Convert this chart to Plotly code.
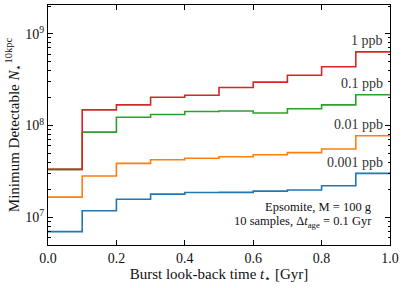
import math
import plotly.graph_objects as go

bin_edges = [0.0, 0.1, 0.2, 0.3, 0.4, 0.5, 0.6, 0.7, 0.8, 0.9, 1.0]
labels = ["0.001 ppb", "0.01 ppb", "0.1 ppb", "1 ppb"]
colors = ["#1f77b4", "#ff7f0e", "#2ca02c", "#d62728"]
vals_0001 = [6.97e6, 1.18e7, 1.57e7, 1.79e7, 1.86e7, 1.87e7, 1.93e7, 1.98e7, 2.21e7, 3.01e7]
vals_001 = [1.66e7, 2.82e7, 3.87e7, 4.24e7, 4.40e7, 4.57e7, 4.81e7, 5.06e7, 5.55e7, 7.74e7]
vals_01 = [3.33e7, 8.46e7, 1.23e8, 1.32e8, 1.42e8, 1.44e8, 1.37e8, 1.52e8, 1.68e8, 2.16e8]
vals_1 = [3.33e7, 1.48e8, 1.68e8, 2.03e8, 2.14e8, 2.59e8, 2.97e8, 3.53e8, 4.36e8, 6.35e8]
series = [vals_0001, vals_001, vals_01, vals_1]

font = "Liberation Serif"
fig = go.Figure()
for lab, col, v in zip(labels, colors, series):
    fig.add_trace(go.Scatter(x=bin_edges, y=v + [v[-1]], mode="lines",
                             line=dict(color=col, width=1.6, shape="hv"),
                             name=lab, showlegend=False, hoverinfo="skip"))
    fig.add_annotation(x=0.985, y=math.log10(v[-1]), xref="x", yref="y", text=lab,
                       showarrow=False, xanchor="right", yanchor="middle",
                       yshift=11, font=dict(family=font, size=14, color="#333"))

fig.add_annotation(x=0.953, y=0.160, xref="x", yref="paper", xanchor="right",
                   yanchor="middle", showarrow=False,
                   text="Epsomite, M = 100 g",
                   font=dict(family=font, size=12.5, color="#111"))
fig.add_annotation(x=0.953, y=0.095, xref="x", yref="paper", xanchor="right",
                   yanchor="middle", showarrow=False,
                   text="10 samples, Δ<i>t</i><sub>age</sub> = 0.1 Gyr",
                   font=dict(family=font, size=12.5, color="#111"))

minor_vals = [m * 10 ** e for e in range(6, 10) for m in range(2, 10)]
fig.update_layout(
    width=407, height=288,
    margin=dict(l=48, r=17, t=5, b=43),
    paper_bgcolor="white", plot_bgcolor="white",
    font=dict(family=font, size=14, color="#111"),
    xaxis=dict(range=[0, 1], tickvals=[0, 0.2, 0.4, 0.6, 0.8, 1.0],
               ticktext=["0.0", "0.2", "0.4", "0.6", "0.8", "1.0"],
               ticks="inside", ticklen=5, tickcolor="black", showline=True,
               linecolor="black", linewidth=1, mirror="allticks", showgrid=False,
               zeroline=False, automargin=False,
               title=dict(text="Burst look-back time <i>t</i><sub>⋆</sub> [Gyr]",
                          standoff=2, font=dict(size=15))),
    yaxis=dict(type="log", range=[6.698, 9.313], tickvals=[1e7, 1e8, 1e9],
               ticktext=["10<sup>7</sup>", "10<sup>8</sup>", "10<sup>9</sup>"],
               ticks="inside", ticklen=5, tickcolor="black", showline=True,
               linecolor="black", linewidth=1, mirror="allticks", showgrid=False,
               zeroline=False, automargin=False,
               minor=dict(tickvals=minor_vals, ticks="inside", ticklen=2.5,
                          tickcolor="black", showgrid=False),
               title=dict(text="Minimum Detectable <i>N</i><sub>⋆</sub><sup>10kpc</sup>",
                          standoff=2, font=dict(size=15))),
)
fig.write_html("out.html", config={"displayModeBar": False},
               post_script="document.body.style.margin='0px';document.body.style.padding='0px';")
